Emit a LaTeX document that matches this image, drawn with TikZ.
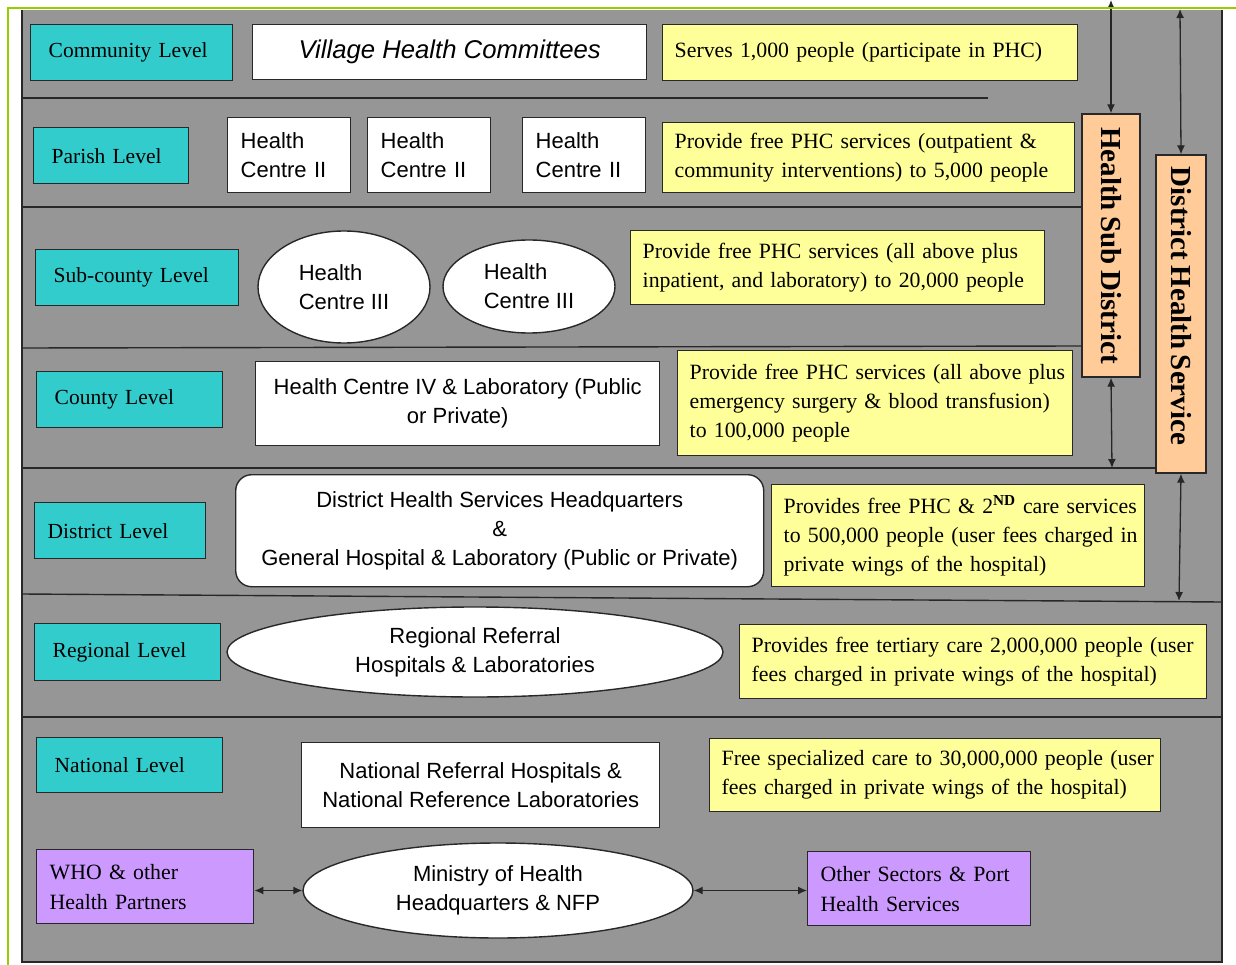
\documentclass[tikz,border=0pt]{standalone}
\usepackage{fontspec}
\setmainfont{Liberation Serif}[WordSpace=0.75]
\setsansfont{Liberation Sans}
\usetikzlibrary{shapes.geometric,arrows.meta}
\definecolor{bgray}{RGB}{150,150,150}
\definecolor{teal2}{RGB}{51,204,204}
\definecolor{yel}{RGB}{255,255,153}
\definecolor{orng}{RGB}{255,204,153}
\definecolor{purp}{RGB}{204,153,255}
\definecolor{grn}{RGB}{153,204,0}
\definecolor{edge}{RGB}{40,40,40}
\begin{document}
\begin{tikzpicture}[x=1pt,y=-1pt,
  box/.style={draw=edge,line width=1.4pt,inner ysep=0pt,anchor=north west},
  lvl/.style={box,fill=teal2,font=\fontsize{21.5}{29}\selectfont,inner xsep=18pt,align=left},
  note/.style={box,fill=yel,font=\fontsize{21.8}{29}\selectfont,inner xsep=12pt,align=left},
  pbox/.style={box,fill=purp,font=\fontsize{21.8}{30}\selectfont,inner xsep=13pt,align=left},
  wbox/.style={box,fill=white,font=\sffamily\fontsize{22}{29}\selectfont},
  well/.style={draw=edge,line width=1.4pt,fill=white,ellipse,inner sep=0pt,anchor=center,font=\sffamily\fontsize{22}{29}\selectfont},
  obox/.style={draw=edge,line width=1.4pt,fill=orng,anchor=center,rotate=-90,inner sep=0pt,font=\bfseries\fontsize{29}{30}\selectfont},
  sep/.style={draw=edge,line width=1.4pt},
  dbl/.style={line width=1.3pt,draw=black!85,{Latex[length=9pt,width=8pt]}-{Latex[length=9pt,width=8pt]}}
]
\fill[white] (0,0) rectangle (1236,965);
\useasboundingbox (0,0) rectangle (1236,965);
\fill[bgray] (22,10) rectangle (1222,962);
\draw[sep] (22,10) -- (22,962) -- (1222,962) -- (1222,10);
% separators
\draw[sep] (22,98) -- (988,98);
\draw[sep] (22,207) -- (1082,207);
\draw[sep] (22,348) -- (1082,346);
\draw[sep] (22,468) -- (1156,468);
\draw[sep] (22,594) -- (1222,602);
\draw[sep] (22,717) -- (1222,717);
% levels
\node[lvl,text width=166pt,minimum height=56pt] (community) at (30,24) {Community Level};
\node[lvl,text width=119pt,minimum height=56pt] (parish) at (33,127) {Parish Level};
\node[lvl,text width=167pt,minimum height=56pt] (subcounty) at (35,249) {Sub-county Level};
\node[lvl,text width=150pt,minimum height=56pt] (county) at (36,371) {County Level};
\node[lvl,text width=145pt,inner xsep=13pt,minimum height=56pt] (district) at (34,502) {District Level};
\node[lvl,text width=150pt,minimum height=57pt] (regional) at (34,623) {Regional Level};
\node[lvl,text width=150pt,minimum height=55pt] (national) at (36,737) {National Level};
% notes
\node[note,text width=391pt,minimum height=56pt] (n1) at (662,24) {\mbox{Serves 1,000 people (participate in PHC)}};
\node[note,text width=388pt,minimum height=70pt] (n2) at (662,122) {\mbox{Provide free PHC services (outpatient \&}\\\mbox{community interventions) to 5,000 people}};
\node[note,text width=390pt,minimum height=74pt] (n3) at (630,230) {\mbox{Provide free PHC services (all above plus}\\\mbox{inpatient, and laboratory) to 20,000 people}};
\node[note,text width=371pt,minimum height=105pt] (n4) at (677,350) {\mbox{Provide free PHC services (all above plus}\\\mbox{emergency surgery \& blood transfusion)}\\\mbox{to 100,000 people}};
\node[note,text width=349pt,minimum height=102pt] (n5) at (771,484) {\mbox{Provides free PHC \& 2\textsuperscript{\bfseries ND} care services}\\\mbox{to 500,000 people (user fees charged in}\\\mbox{private wings of the hospital)}};
\node[note,text width=443pt,minimum height=74pt] (n6) at (739,624) {\mbox{Provides free tertiary care 2,000,000 people (user}\\\mbox{fees charged in private wings of the hospital)}};
\node[note,text width=427pt,minimum height=73pt] (n7) at (709,738) {\mbox{Free specialized care to 30,000,000 people (user}\\\mbox{fees charged in private wings of the hospital)}};
% facilities
\node[wbox,minimum width=394pt,minimum height=55pt,inner xsep=0pt,font=\sffamily\itshape\fontsize{25.7}{30}\selectfont] (vhc) at (252,24) {Village Health Committees};
\node[wbox,text width=97pt,inner xsep=13pt,minimum height=75pt,align=left] (hc2a) at (227,117) {Health\\Centre II};
\node[wbox,text width=97pt,inner xsep=13pt,minimum height=75pt,align=left] (hc2b) at (367,117) {Health\\Centre II};
\node[wbox,text width=97pt,inner xsep=13pt,minimum height=75pt,align=left] (hc2c) at (522,117) {Health\\Centre II};
\node[well,minimum width=172pt,minimum height=112pt,align=left] (hc3a) at (344,287) {Health\\Centre III};
\node[well,minimum width=172pt,minimum height=93pt,align=left] (hc3b) at (529,286.5) {Health\\Centre III};
\node[wbox,minimum width=404pt,minimum height=84pt,inner xsep=0pt,align=center] (hc4) at (255,361) {Health Centre IV \& Laboratory (Public\\or Private)};
\node[wbox,minimum width=528pt,minimum height=112pt,inner xsep=0pt,align=center,rounded corners=16pt] (dhq) at (235,474) {District Health Services Headquarters\\\&\\General Hospital \& Laboratory (Public or Private)};
\node[well,minimum width=496pt,minimum height=90pt,align=center] (rrh) at (475,652) {Regional Referral\\Hospitals \& Laboratories};
\node[wbox,minimum width=358pt,minimum height=85pt,inner xsep=0pt,align=center] (nrh) at (301,742) {National Referral Hospitals \&\\National Reference Laboratories};
\node[well,minimum width=390pt,minimum height=95pt,align=center] (moh) at (498,890.5) {Ministry of Health\\Headquarters \& NFP};
\node[pbox,text width=191pt,minimum height=74pt] (who) at (36,849) {WHO \& other\\Health Partners};
\node[pbox,text width=197pt,minimum height=74pt] (oth) at (807,851) {Other Sectors \& Port\\Health Services};
% district bars
\node[obox,minimum width=263pt,minimum height=58pt] (hsd) at (1111,245.5) {Health Sub District};
\node[obox,minimum width=318pt,minimum height=50pt] (dhs) at (1181,314) {District Health Service\hspace*{16pt}};
% arrows
\coordinate (t1) at (1111,0);
\coordinate (t2) at (1180,9);
\coordinate (b1) at (1112,468);
\coordinate (b2) at (1179,601);
\draw[dbl] (t1) -- (hsd.west);
\draw[dbl] (t2) -- (dhs.west);
\draw[dbl] (hsd.east) -- (b1);
\draw[dbl] (dhs.east) -- (b2);
\draw[dbl] (who.east |- moh.west) -- (moh.west);
\draw[dbl] (moh.east) -- (moh.east -| oth.west);
% green frame
\draw[grn,line width=2.5pt] (8,965) -- (8,8) -- (1236,8);
\end{tikzpicture}
\end{document}
